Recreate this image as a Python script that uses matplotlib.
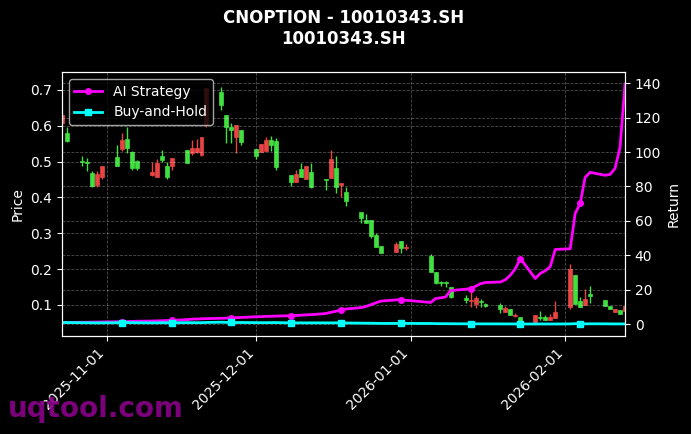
import numpy as np
import pandas as pd
import matplotlib
matplotlib.use('Agg')
import matplotlib.pyplot as plt
import matplotlib.dates as mdates

title = 'CNOPTION - 10010343.SH\n10010343.SH'

# trading days (weekends and the new-year holiday skipped)
dates = pd.bdate_range('2025-10-23', '2026-02-13', freq='C',
                       holidays=['2026-01-01', '2026-01-02'])

opens = [0.630, 0.558, 0.499, 0.496, 0.432, 0.465, 0.488, 0.488, 0.560, 0.538,
         0.482, 0.482, 0.471, 0.496, 0.504, 0.457, 0.510, 0.496, 0.538, 0.538,
         0.569, 0.706, 0.658, 0.597, 0.588, 0.602, 0.555, 0.516, 0.549, 0.560,
         0.546, 0.485, 0.443, 0.465, 0.457, 0.488, 0.429, 0.449, 0.507, 0.429,
         0.439, 0.390, 0.342, 0.328, 0.292, 0.261, 0.245, 0.270, 0.259, 0.262,
         0.192, 0.161, 0.160, 0.160, 0.122, 0.113, 0.114, 0.119, 0.108, 0.098,
         0.088, 0.091, 0.071, 0.072, 0.052, 0.071, 0.062, 0.058, 0.066, 0.080,
         0.200, 0.102, 0.094, 0.116, 0.126, 0.097, 0.088, 0.088, 0.074, 0.097]
highs = [0.636, 0.597, 0.516, 0.510, 0.474, 0.474, 0.488, 0.546, 0.580, 0.597,
         0.530, 0.504, 0.499, 0.507, 0.532, 0.499, 0.510, 0.532, 0.560, 0.563,
         0.569, 0.708, 0.708, 0.630, 0.608, 0.602, 0.588, 0.535, 0.549, 0.569,
         0.571, 0.566, 0.463, 0.477, 0.496, 0.488, 0.496, 0.451, 0.532, 0.516,
         0.439, 0.429, 0.359, 0.354, 0.337, 0.301, 0.264, 0.275, 0.278, 0.270,
         0.242, 0.192, 0.166, 0.166, 0.150, 0.127, 0.141, 0.125, 0.116, 0.105,
         0.105, 0.097, 0.088, 0.077, 0.066, 0.071, 0.083, 0.071, 0.074, 0.111,
         0.214, 0.183, 0.122, 0.144, 0.153, 0.113, 0.097, 0.088, 0.085, 0.097]
lows = [0.602, 0.555, 0.488, 0.474, 0.430, 0.429, 0.451, 0.488, 0.530, 0.524,
        0.477, 0.477, 0.460, 0.457, 0.499, 0.451, 0.477, 0.496, 0.518, 0.524,
        0.516, 0.597, 0.644, 0.552, 0.552, 0.524, 0.546, 0.507, 0.527, 0.530,
        0.530, 0.477, 0.432, 0.443, 0.457, 0.451, 0.426, 0.421, 0.454, 0.412,
        0.401, 0.376, 0.328, 0.328, 0.287, 0.261, 0.245, 0.247, 0.245, 0.253,
        0.192, 0.158, 0.153, 0.150, 0.119, 0.105, 0.094, 0.091, 0.094, 0.094,
        0.077, 0.080, 0.071, 0.066, 0.052, 0.052, 0.058, 0.058, 0.058, 0.063,
        0.088, 0.102, 0.094, 0.099, 0.105, 0.097, 0.088, 0.080, 0.074, 0.083]
closes = [0.608, 0.580, 0.502, 0.499, 0.468, 0.435, 0.457, 0.513, 0.535, 0.563,
          0.527, 0.502, 0.463, 0.457, 0.516, 0.488, 0.488, 0.532, 0.524, 0.527,
          0.518, 0.602, 0.694, 0.630, 0.597, 0.569, 0.588, 0.535, 0.527, 0.530,
          0.560, 0.558, 0.463, 0.443, 0.479, 0.451, 0.471, 0.452, 0.454, 0.482,
          0.436, 0.415, 0.359, 0.337, 0.337, 0.295, 0.264, 0.247, 0.278, 0.259,
          0.236, 0.192, 0.163, 0.163, 0.150, 0.119, 0.111, 0.102, 0.111, 0.101,
          0.099, 0.080, 0.088, 0.069, 0.066, 0.052, 0.065, 0.066, 0.058, 0.063,
          0.094, 0.183, 0.111, 0.099, 0.129, 0.113, 0.097, 0.080, 0.085, 0.083]

ai_strategy = [1.0, 1.0, 1.1, 1.1, 1.2, 1.2, 1.3, 1.4, 1.5, 1.5,
               1.6, 1.7, 1.8, 1.9, 2.0, 2.1, 2.2, 2.6, 2.9, 3.0,
               3.1, 3.2, 3.4, 3.5, 3.6, 3.8, 3.9, 4.3, 4.4, 4.5,
               4.6, 4.7, 4.9, 5.1, 5.2, 5.4, 5.5, 6.2, 6.9, 7.5,
               8.3, 8.8, 9.6, 10.3, 11.3, 12.4, 13.4, 14.1, 14.3, 13.9,
               12.6, 14.9, 15.3, 15.8, 19.5, 20.3, 20.6, 22.0, 23.5, 24.2,
               24.5, 25.8, 28.5, 32.3, 38.1, 26.5, 29.5, 31.0, 33.5, 43.4,
               43.8, 64.3, 70.1, 85.3, 88.2, 86.5, 87.0, 90.5, 102.7, 139.5]
buy_hold = [1.00, 0.95, 0.83, 0.82, 0.77, 0.72, 0.75, 0.84, 0.88, 0.93,
            0.87, 0.83, 0.76, 0.75, 0.85, 0.80, 0.80, 0.88, 0.86, 0.87,
            0.85, 0.99, 1.14, 1.04, 0.98, 0.94, 0.97, 0.88, 0.87, 0.87,
            0.92, 0.92, 0.76, 0.73, 0.79, 0.74, 0.77, 0.74, 0.75, 0.79,
            0.72, 0.68, 0.59, 0.55, 0.55, 0.49, 0.43, 0.41, 0.46, 0.43,
            0.39, 0.32, 0.27, 0.27, 0.25, 0.20, 0.18, 0.17, 0.18, 0.16,
            0.16, 0.13, 0.14, 0.12, 0.11, 0.09, 0.11, 0.11, 0.10, 0.10,
            0.15, 0.30, 0.18, 0.16, 0.21, 0.19, 0.16, 0.13, 0.14, 0.14]


def plot_chart():
    plt.style.use('dark_background')
    plt.rcParams['font.family'] = ['DejaVu Sans']

    fig, ax = plt.subplots(figsize=(6.91, 4.34), dpi=100)
    fig.subplots_adjust(left=0.0897, right=0.9045, bottom=0.2258, top=0.834)

    o = np.array(opens)
    c = np.array(closes)
    up = c >= o
    colors = np.where(up, '#3fe03f', '#e84444')
    body_h = np.maximum(np.abs(c - o), 0.002)

    ax.vlines(dates, lows, highs, colors=colors, linewidth=1.0)
    ax.bar(dates, body_h, bottom=np.minimum(o, c), width=0.8,
           color=colors, edgecolor=colors, linewidth=0.5)

    ax.set_ylim(0.013, 0.75)
    ax.set_xlim(dates[0], dates[-1])
    ax.set_ylabel('Price', fontsize=10)
    ax.grid(True, linestyle='--', linewidth=0.6, alpha=0.3)

    ax2 = ax.twinx()
    ax2.plot(dates, ai_strategy, color='#ff00ff', linewidth=2,
             marker='o', markersize=4, markevery=(8, 8), label='AI Strategy')
    ax2.plot(dates, buy_hold, color='#00ffff', linewidth=2,
             marker='s', markersize=4, markevery=(8, 8), label='Buy-and-Hold')
    ax2.set_ylabel('Return', fontsize=10)
    ax2.grid(True, linestyle='--', linewidth=0.6, alpha=0.3)
    ax2.legend(loc='upper left', facecolor='black', edgecolor='#cccccc',
               framealpha=0.8, fontsize=10)

    ax.xaxis.set_major_locator(mdates.MonthLocator())
    ax.xaxis.set_major_formatter(mdates.DateFormatter('%Y-%m-%d'))
    plt.setp(ax.get_xticklabels(), rotation=45, ha='right')

    ax.set_title(title, fontsize=12, fontweight='bold', pad=20)

    fig.text(0.012, 0.04, 'uqtool.com', color='#8b008b', fontsize=20,
             fontweight='bold', alpha=0.9)

    fig.savefig('out.png', dpi=100, facecolor='black')


if __name__ == "__main__":
    plot_chart()
